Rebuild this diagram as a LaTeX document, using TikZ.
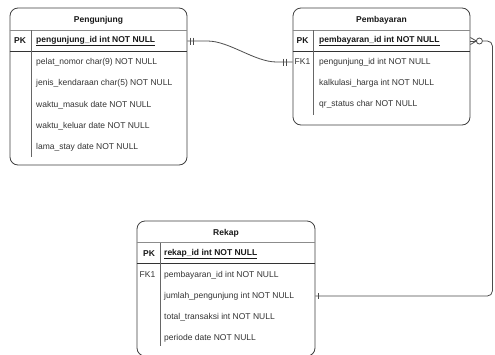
\documentclass[tikz,border=0pt]{standalone}
\usepackage{fontspec}
\setmainfont{Liberation Sans}
\begin{document}
\begin{tikzpicture}[x=1pt,y=-1pt,
  tbl/.style={draw=black!75, line width=0.8pt, rounded corners=8pt, inner sep=0pt},
  hdr/.style={inner sep=0pt, font=\fontsize{8.5}{10}\selectfont\bfseries, text=black!90},
  fld/.style={anchor=west, inner sep=0pt, font=\fontsize{8.5}{10}\selectfont, text=black!80},
  pkf/.style={anchor=west, inner sep=0pt, font=\fontsize{8.5}{10}\selectfont\bfseries, text=black!90},
  key/.style={inner sep=0pt, font=\fontsize{8.5}{10}\selectfont\bfseries, text=black!90},
  fk/.style={inner sep=0pt, font=\fontsize{8.5}{10}\selectfont, text=black!80},
  sep/.style={draw=black!45, line width=0.6pt},
  pksep/.style={draw=black!80, line width=0.9pt},
  div/.style={draw=black!60, line width=0.6pt},
  conn/.style={draw=black!70, line width=0.8pt},
]
\clip (0,0) rectangle (495,354);
\fill[white] (0,0) rectangle (495,354);

% ---------- Pengunjung ----------
\node[tbl, minimum width=177pt, minimum height=157pt] (pengunjung) at (98.5,86.5) {};
\node[hdr] (pg-title) at (98.5,20) {Pengunjung};
\node[key] (pg-pk) at (20,41) {PK};
\node[pkf] (pg-id) at (36,41) {\underline{pengunjung\_id int NOT NULL}};
\node[fld] (pg-r1) at (36,62) {pelat\_nomor char(9) NOT NULL};
\node[fld] (pg-r2) at (36,83) {jenis\_kendaraan char(5) NOT NULL};
\node[fld] (pg-r3) at (36,105) {waktu\_masuk date NOT NULL};
\node[fld] (pg-r4) at (36,126) {waktu\_keluar date NOT NULL};
\node[fld] (pg-r5) at (36,147) {lama\_stay date NOT NULL};
\draw[sep] (pengunjung.west |- 0,30) -- (pengunjung.east |- 0,30);
\draw[pksep] (pengunjung.west |- 0,51) -- (pengunjung.east |- 0,51);
\draw[div] (31,30) -- (31,157);

% ---------- Pembayaran ----------
\node[tbl, minimum width=177pt, minimum height=117pt] (pembayaran) at (381.5,66.5) {};
\node[hdr] (pb-title) at (381.5,20) {Pembayaran};
\node[key] (pb-pk) at (302.5,41) {PK};
\node[pkf] (pb-id) at (319,41) {\underline{pembayaran\_id int NOT NULL}};
\node[fk] (pb-fkl) at (302.5,62) {FK1};
\node[fld] (pb-fk) at (319,62) {pengunjung\_id int NOT NULL};
\node[fld] (pb-r2) at (319,83) {kalkulasi\_harga int NOT NULL};
\node[fld] (pb-r3) at (319,104) {qr\_status char NOT NULL};
\draw[sep] (pembayaran.west |- 0,30) -- (pembayaran.east |- 0,30);
\draw[pksep] (pembayaran.west |- 0,51) -- (pembayaran.east |- 0,51);
\draw[div] (313,30) -- (313,115);

% ---------- Rekap ----------
\node[tbl, minimum width=178pt, minimum height=135pt] (rekap) at (226,288.5) {};
\node[hdr] (rk-title) at (226,233) {Rekap};
\node[key] (rk-pk) at (149,254) {PK};
\node[pkf] (rk-id) at (164,254) {\underline{rekap\_id int NOT NULL}};
\node[fk] (rk-fkl) at (147.5,275) {FK1};
\node[fld] (rk-fk) at (164,275) {pembayaran\_id int NOT NULL};
\node[fld] (rk-jml) at (164,296) {jumlah\_pengunjung int NOT NULL};
\node[fld] (rk-r3) at (164,317) {total\_transaksi int NOT NULL};
\node[fld] (rk-r4) at (164,338) {periode date NOT NULL};
\draw[sep] (rekap.west |- 0,242.5) -- (rekap.east |- 0,242.5);
\draw[pksep] (rekap.west |- 0,263) -- (rekap.east |- 0,263);
\draw[div] (160,242.5) -- (160,346);

% ---------- Connector 1: Pengunjung -> Pembayaran ----------
\coordinate (c1s) at (pengunjung.east |- pg-id);
\coordinate (c1e) at (pembayaran.west |- pb-fk);
\draw[conn] (c1s) -- ++(20,0) .. controls +(22,0) and +(-22,0) .. ([xshift=-16pt]c1e) -- (c1e);
\foreach \d in {3,5.5}
  \draw[conn] ([xshift=\d pt]c1s) ++(0,-3.5) -- ++(0,7);
\foreach \d in {-9.5,-6.5}
  \draw[conn] ([xshift=\d pt]c1e) ++(0,-3.5) -- ++(0,7);

% ---------- Connector 2: Pembayaran -> Rekap ----------
\coordinate (c2s) at (pembayaran.east |- pb-id);
\coordinate (c2e) at (rekap.east |- rk-jml);
\coordinate (c2c) at ([xshift=22pt]c2s);
\draw[conn, rounded corners=5pt] ([xshift=12pt]c2s) -- (c2c) -- (c2c |- c2e) -- (c2e);
\draw[conn] ([yshift=-3.5pt]c2s) -- ([xshift=6pt]c2s) -- ([yshift=3.5pt]c2s);
\draw[conn] (c2s) -- ([xshift=6pt]c2s);
\draw[conn, fill=white] ([xshift=9pt]c2s) circle (3pt);
\draw[conn] ([xshift=2.5pt]c2e) ++(0,-3) -- ++(0,6);
\end{tikzpicture}
\end{document}
